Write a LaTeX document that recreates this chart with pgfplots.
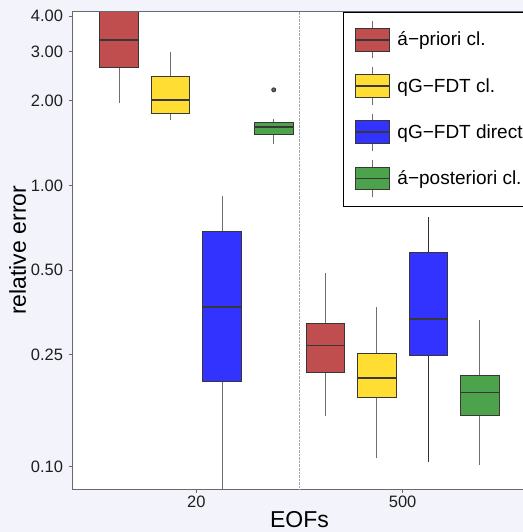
\documentclass[border=0pt]{standalone}
\usepackage{fontspec}
\setmainfont{Liberation Sans}
\usepackage{pgfplots}
\pgfplotsset{compat=1.18}
\usepgfplotslibrary{statistics}

\definecolor{bgpanel}{RGB}{243,243,252}
\definecolor{cRed}{RGB}{192,78,78}
\definecolor{cYel}{RGB}{255,221,51}
\definecolor{cBlu}{RGB}{51,51,255}
\definecolor{cGrn}{RGB}{76,163,76}
\definecolor{boxedge}{RGB}{55,55,55}
\definecolor{whiskgray}{RGB}{110,110,110}
\definecolor{whiskdark}{RGB}{50,50,50}
\definecolor{axisgray}{RGB}{105,105,105}

\pgfplotsset{
  bx/.style n args={2}{fill=#1, draw=boxedge, line width=0.9bp, solid, mark=none,
    boxplot/draw direction=y,
    boxplot/every whisker/.style={draw=#2, line width=1bp},
    boxplot/every median/.style={draw=boxedge, line width=1.7bp},
    legend image code/.code={
      \draw[draw=#2, line width=1bp] (17bp,-18.7bp) -- (17bp,18.7bp);
      \draw[draw=boxedge, fill=#1, line width=0.9bp] (0bp,-11.35bp) rectangle (34bp,11.35bp);
      \draw[draw=boxedge, line width=1.7bp] (0bp,0bp) -- (34bp,0bp);
    }},
}

\begin{document}
\begin{tikzpicture}
  % page = 523 x 532 bp, panel corner at (0,0)
  \fill[bgpanel] (-72.7bp,-43bp) rectangle (450.3bp,489bp);
  \begin{axis}[
      scale only axis,
      width=453.6bp, height=477.3bp,
      xmin=0.4, xmax=2.6,
      ymode=log, ymin=0.0834, ymax=4.152,
      boxplot/draw direction=y,
      axis background/.style={fill=white},
      axis line style={draw=axisgray, line width=0.9bp},
      axis on top,
      xtick={1,2}, xticklabels={20,500},
      ytick={0.1,0.25,0.5,1,2,3,4},
      yticklabels={0.10,0.25,0.50,1.00,2.00,3.00,4.00},
      yminorticks=false,
      tick align=outside, tick pos=left,
      major tick length=4bp,
      tick style={draw=axisgray, line width=0.9bp},
      /pgf/number format/assume math mode=true,
      tick label style={font=\fontsize{16.5bp}{19bp}\selectfont, text=black!88},
      yticklabel style={inner sep=0pt, xshift=-5.4bp},
      xticklabel style={inner sep=0pt, yshift=-3bp},
      extra x ticks={1.5}, extra x tick labels={},
      extra x tick style={grid=major, major tick length=0pt,
        major grid style={draw=gray!70, densely dotted, line width=0.7bp}},
      xlabel={EOFs}, ylabel={relative error},
      xlabel style={at={(axis description cs:0.5,-0.0808)}, anchor=base,
        font=\fontsize{23bp}{27bp}\selectfont},
      ylabel style={at={(axis description cs:-0.1030,0.5)}, anchor=base, rotate=0,
        font=\fontsize{23bp}{27bp}\selectfont},
      legend cell align=left,
      legend style={at={(axis description cs:0.5966,1.0)}, anchor=north west,
        draw=black, line width=0.9bp, fill=white,
        inner xsep=11bp, inner ysep=8.3bp, row sep=7.9bp, column sep=7bp,
        nodes={inner sep=0pt, font=\fontsize{19bp}{23bp}\selectfont}},
    ]
    % EOFs = 20
    \addplot[bx={cRed}{whiskgray}, boxplot prepared={draw position=0.625,
      lower whisker=1.97, lower quartile=2.64, median=3.29,
      upper quartile=4.6, upper whisker=6.0, box extend=0.187, whisker extend=0}]
      coordinates {};
    \addlegendentry{á−priori cl.}
    \addplot[bx={cYel}{whiskgray}, boxplot prepared={draw position=0.875,
      lower whisker=1.71, lower quartile=1.81, median=2.01,
      upper quartile=2.45, upper whisker=2.98, box extend=0.187, whisker extend=0}]
      coordinates {};
    \addlegendentry{qG−FDT cl.}
    \addplot[bx={cBlu}{whiskgray}, boxplot prepared={draw position=1.125,
      lower whisker=0.06, lower quartile=0.201, median=0.370,
      upper quartile=0.686, upper whisker=0.918, box extend=0.187, whisker extend=0}]
      coordinates {};
    \addlegendentry{qG−FDT direct}
    \addplot[bx={cGrn}{whiskgray}, mark=*, mark size=2bp,
      mark options={fill=black!60, draw=none},
      boxplot prepared={draw position=1.375,
      lower whisker=1.406, lower quartile=1.526, median=1.62,
      upper quartile=1.674, upper whisker=1.725, box extend=0.187, whisker extend=0}]
      table[row sep=\\, y index=0] {y\\ 2.19\\};
    \addlegendentry{á−posteriori cl.}
    % EOFs = 500
    \addplot[forget plot, bx={cRed}{whiskgray}, boxplot prepared={draw position=1.625,
      lower whisker=0.152, lower quartile=0.216, median=0.270,
      upper quartile=0.323, upper whisker=0.488, box extend=0.187, whisker extend=0}]
      coordinates {};
    \addplot[forget plot, bx={cYel}{whiskgray}, boxplot prepared={draw position=1.875,
      lower whisker=0.1076, lower quartile=0.176, median=0.207,
      upper quartile=0.2526, upper whisker=0.369, box extend=0.187, whisker extend=0}]
      coordinates {};
    \addplot[forget plot, bx={cBlu}{whiskdark}, boxplot prepared={draw position=2.125,
      lower whisker=0.1043, lower quartile=0.249, median=0.3356,
      upper quartile=0.579, upper whisker=0.772, box extend=0.187, whisker extend=0}]
      coordinates {};
    \addplot[forget plot, bx={cGrn}{whiskgray}, boxplot prepared={draw position=2.375,
      lower whisker=0.1013, lower quartile=0.1526, median=0.184,
      upper quartile=0.2117, upper whisker=0.334, box extend=0.187, whisker extend=0}]
      coordinates {};
  \end{axis}
  \pgfresetboundingbox
  \path[use as bounding box] (-72.7bp,-43bp) rectangle (450.3bp,489bp);
\end{tikzpicture}
\end{document}
